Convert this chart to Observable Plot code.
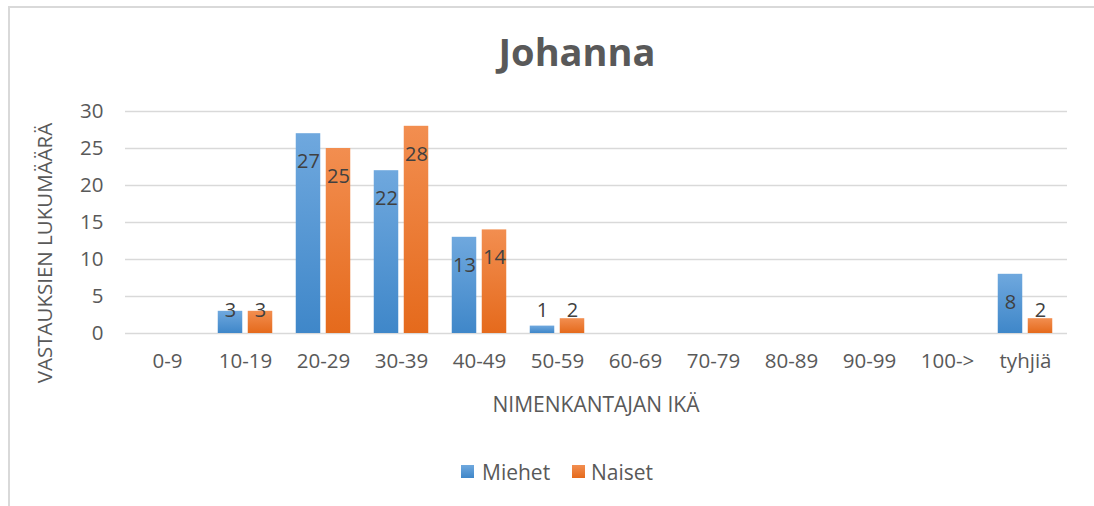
<!DOCTYPE html>
<html><head><meta charset="utf-8">
<script src="https://cdn.jsdelivr.net/npm/d3@7"></script>
<script src="https://cdn.jsdelivr.net/npm/@observablehq/plot@0.6"></script>
<style>
 body{margin:0;background:#fff;}
 #wrap{position:relative;width:1094px;height:506px;overflow:hidden;background:#fff;font-family:"Open Sans",Lato,sans-serif;color:#595959;}
 #border{position:absolute;left:8px;top:6px;width:1200px;height:600px;border:2px solid #d9d9d9;box-sizing:border-box;}
 #title{position:absolute;left:377px;width:400px;top:26px;text-align:center;font-size:38px;font-weight:bold;line-height:50px;}
 #ylab{position:absolute;left:44px;top:253px;transform:translate(-50%,-50%) rotate(-90deg);white-space:nowrap;font-size:20.5px;}
 #xlab{position:absolute;left:596px;top:404px;transform:translate(-50%,-50%);white-space:nowrap;font-size:21px;}
 #legend .sw{position:absolute;width:13px;height:13px;top:465px;}
 #legend .tx{position:absolute;top:472px;transform:translateY(-50%);font-size:21px;line-height:28px;white-space:nowrap;}
 #chart{position:absolute;left:0;top:0;}
</style></head>
<body>
<svg width="0" height="0" style="position:absolute">
 <defs>
  <linearGradient id="gBlue" x1="0" y1="0" x2="0" y2="1">
   <stop offset="0" stop-color="#6fa8de"/><stop offset="1" stop-color="#3f87c9"/>
  </linearGradient>
  <linearGradient id="gOrange" x1="0" y1="0" x2="0" y2="1">
   <stop offset="0" stop-color="#f28e50"/><stop offset="1" stop-color="#e56a1c"/>
  </linearGradient>
  <filter id="shadow" x="-20%" y="-20%" width="140%" height="140%">
   <feDropShadow dx="1.5" dy="1.5" stdDeviation="1.5" flood-color="#000" flood-opacity="0.25"/>
  </filter>
 </defs>
</svg>
<div id="wrap">
 <div id="border"></div>
 <div id="title">Johanna</div>
 <div id="ylab">VASTAUKSIEN LUKUMÄÄRÄ</div>
 <div id="xlab">NIMENKANTAJAN IKÄ</div>
 <div id="chart"></div>
 <div id="legend">
  <span class="sw" style="left:461px;background:linear-gradient(#6fa8de,#3f87c9)"></span><span class="tx" style="left:482px">Miehet</span>
  <span class="sw" style="left:572px;background:linear-gradient(#f28e50,#e56a1c)"></span><span class="tx" style="left:591px">Naiset</span>
 </div>
</div>
<script>
const ages = ["0-9","10-19","20-29","30-39","40-49","50-59","60-69","70-79","80-89","90-99","100->","tyhjiä"];
const miehet = [null,3,27,22,13,1,null,null,null,null,null,8];
const naiset = [null,3,25,28,14,2,null,null,null,null,null,2];
const yTicks = [0,5,10,15,20,25,30];

const rowsM = ages.map((a,i)=>({age:a, v:miehet[i]})).filter(d=>d.v!=null);
const rowsN = ages.map((a,i)=>({age:a, v:naiset[i]})).filter(d=>d.v!=null);
const labelY = d => Math.max(d.v, 6.9);

const chart = Plot.plot({
  width:1094, height:506,
  marginLeft:125, marginRight:27, marginTop:111, marginBottom:173,
  style:{fontFamily:'"Open Sans",Lato,sans-serif', fontSize:"20.5px", color:"#595959", background:"transparent", overflow:"visible"},
  x:{domain:ages, padding:0, label:null, tickSize:0, tickPadding:20},
  y:{domain:[0,30], ticks:yTicks, label:null, tickSize:0, tickPadding:22},
  marks:[
    Plot.ruleY(yTicks, {stroke:"#d9d9d9", strokeWidth:1.5}),
    Plot.barY(rowsM, {x:"age", y:"v", fill:"url(#gBlue)", insetLeft:11.75, insetRight:41.75, ariaLabel:"barM"}),
    Plot.barY(rowsN, {x:"age", y:"v", fill:"url(#gOrange)", insetLeft:41.75, insetRight:11.75, ariaLabel:"barN"}),
    Plot.text(rowsM, {x:"age", y:labelY, text:"v", dx:-15, dy:28, fill:"#404040", fontSize:20}),
    Plot.text(rowsN, {x:"age", y:labelY, text:"v", dx:15, dy:28, fill:"#404040", fontSize:20})
  ]
});
chart.querySelectorAll('g[aria-label="barM"], g[aria-label="barN"]').forEach(g=>g.setAttribute("filter","url(#shadow)"));
document.getElementById("chart").appendChild(chart);
</script>
</body></html>
